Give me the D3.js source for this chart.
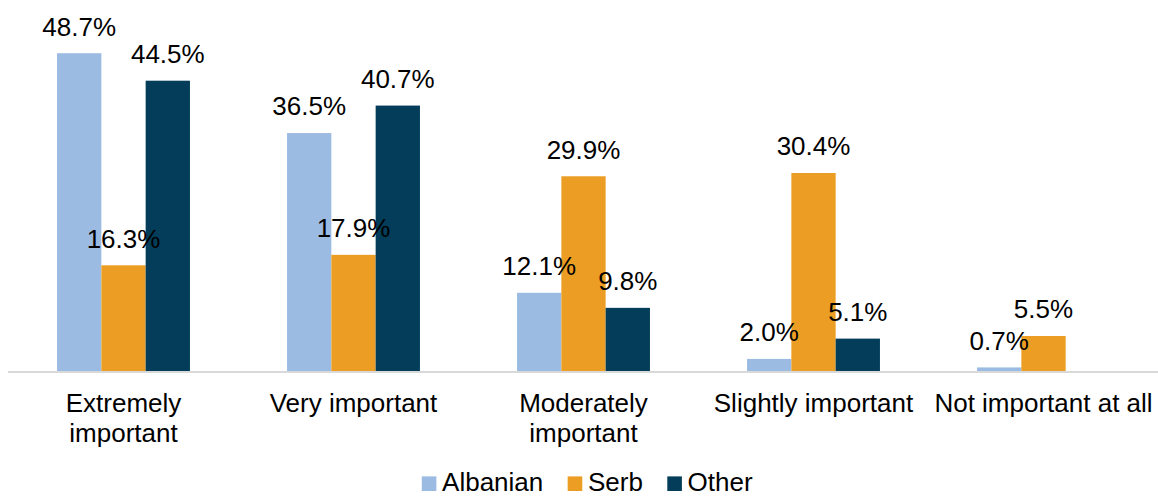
<!DOCTYPE html>
<html>
<head>
<meta charset="utf-8">
<script src="https://cdn.jsdelivr.net/npm/d3@7"></script>
<style>
  html, body { margin: 0; padding: 0; background: #fff; }
  svg { display: block; }
  text { font-family: "Liberation Sans", Arial, sans-serif; fill: #000; }
</style>
</head>
<body>
<svg id="chart" width="1158" height="497"></svg>
<script>
const categories = [
  ["Extremely", "important"],
  ["Very important"],
  ["Moderately", "important"],
  ["Slightly important"],
  ["Not important at all"]
];
const seriesNames = ["Albanian", "Serb", "Other"];
const albanian = [48.7, 36.5, 12.1, 2.0, 0.7];
const serb = [16.3, 17.9, 29.9, 30.4, 5.5];
const other = [44.5, 40.7, 9.8, 5.1, null];
const colors = ["#9bbbe3", "#eb9e23", "#033d5a"];

const seriesValues = [albanian, serb, other];
const catKeys = categories.map(c => c.join(" "));

const svg = d3.select("#chart");

const x0 = d3.scaleBand().domain(catKeys).range([8.5, 1158.5]).padding(0);
const x1 = d3.scaleBand().domain(seriesNames).range([0, x0.bandwidth()])
  .paddingInner(0).paddingOuter(1.096);
const y = d3.scaleLinear().domain([0, 50]).range([372, 44.7]);

// bars
const groups = svg.append("g").selectAll("g")
  .data(catKeys)
  .join("g")
  .attr("transform", d => `translate(${x0(d)},0)`);

seriesNames.forEach((s, si) => {
  const vals = seriesValues[si];
  groups.filter((d, i) => vals[i] != null)
    .append("rect")
    .attr("x", x1(s))
    .attr("width", x1.bandwidth())
    .attr("y", (d) => y(vals[catKeys.indexOf(d)]))
    .attr("height", (d) => y(0) - y(vals[catKeys.indexOf(d)]))
    .attr("fill", colors[si]);
});

// axis line
const xAxis = d3.axisBottom(x0).tickSize(0).tickFormat("");
const axisG = svg.append("g").attr("transform", `translate(0,${y(0)})`).call(xAxis);
axisG.select(".domain").attr("stroke", "#d9d9d9").attr("stroke-width", 2)
  .attr("d", `M8,0H1158`);

// value labels
seriesNames.forEach((s, si) => {
  const vals = seriesValues[si];
  groups.filter((d, i) => vals[i] != null)
    .append("text")
    .attr("x", x1(s) + x1.bandwidth() / 2)
    .attr("y", d => y(vals[catKeys.indexOf(d)]) - 17.7)
    .attr("text-anchor", "middle")
    .attr("font-size", 26)
    .text(d => vals[catKeys.indexOf(d)].toFixed(1) + "%");
});

// category labels
categories.forEach((lines, i) => {
  const t = svg.append("text")
    .attr("x", x0(catKeys[i]) + x0.bandwidth() / 2)
    .attr("y", 412.3)
    .attr("text-anchor", "middle")
    .attr("font-size", 26);
  lines.forEach((ln, j) => {
    t.append("tspan")
      .attr("x", x0(catKeys[i]) + x0.bandwidth() / 2)
      .attr("dy", j === 0 ? 0 : 29.4)
      .text(ln);
  });
});

// legend
const legend = svg.append("g");
let lx = 0;
seriesNames.forEach((s, i) => {
  const g = legend.append("g").attr("transform", `translate(${lx},0)`);
  g.append("rect").attr("x", 0).attr("y", 476.4).attr("width", 14.6).attr("height", 14.6)
    .attr("fill", colors[i]);
  const t = g.append("text").attr("x", 20.3).attr("y", 491).attr("font-size", 26).text(s);
  lx += 20.3 + t.node().getComputedTextLength() + 24.4;
});
const legendW = lx - 24.4;
legend.attr("transform", `translate(${587.2 - legendW / 2},0)`);
</script>
</body>
</html>
